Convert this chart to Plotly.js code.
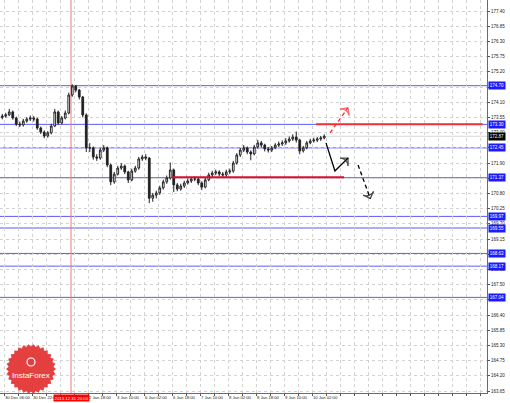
<!DOCTYPE html>
<html>
<head>
<meta charset="utf-8">
<script src="https://cdn.plot.ly/plotly-3.0.1.min.js"></script>
<style>html,body{margin:0;padding:0;background:#fff;}#chart{width:510px;height:403px;}</style>
</head>
<body>
<div id="chart"></div>
<script>
// ---- Data (H2 candles) ----
const openP = [173.55,173.60,173.64,173.75,173.53,173.31,173.28,173.42,173.49,173.53,173.49,173.17,173.02,172.88,172.99,173.24,173.75,173.35,173.53,173.71,174.36,174.69,174.54,174.29,173.64,172.45,172.45,172.12,172.08,172.37,172.45,171.83,171.22,171.50,171.72,171.79,171.58,171.29,171.61,171.72,172.05,172.12,172.08,170.63,170.74,170.82,171.00,171.22,171.36,171.65,171.11,170.96,171.07,171.18,171.25,171.32,171.32,171.18,171.03,171.29,171.47,171.54,171.58,171.50,171.47,171.58,171.61,171.90,172.19,172.37,172.45,172.30,172.23,172.48,172.63,172.55,172.41,172.37,172.45,172.55,172.59,172.63,172.70,172.77,172.84,172.73,172.34,172.45,172.63,172.70,172.73,172.77,172.81];
const highP = [173.68,173.72,173.86,173.80,173.58,173.40,173.50,173.56,173.62,173.60,173.54,173.22,173.08,173.06,173.32,173.86,173.80,173.60,173.80,174.45,174.75,174.72,174.58,174.33,173.70,172.62,172.50,172.22,172.44,172.55,172.50,171.88,171.58,171.80,171.90,171.85,171.62,171.70,171.80,172.12,172.20,172.22,172.12,170.82,170.90,171.08,171.30,171.45,171.92,171.70,171.18,171.15,171.26,171.34,171.40,171.42,171.38,171.24,171.36,171.55,171.62,171.66,171.64,171.58,171.66,171.70,171.98,172.26,172.45,172.55,172.50,172.36,172.56,172.74,172.70,172.60,172.48,172.52,172.62,172.68,172.72,172.80,172.86,172.94,173.04,172.78,172.52,172.70,172.78,172.82,172.84,172.88,172.94];
const lowP  = [173.48,173.54,173.60,173.47,173.24,173.20,173.22,173.36,173.42,173.40,173.10,172.95,172.80,172.82,172.94,173.20,173.28,173.30,173.48,173.66,174.30,174.46,174.20,173.55,172.30,172.30,172.02,171.98,172.02,172.30,171.75,171.10,171.15,171.45,171.65,171.50,171.18,171.24,171.55,171.66,171.98,172.00,170.45,170.50,170.62,170.75,170.94,171.15,171.30,170.85,170.88,170.90,171.00,171.12,171.18,171.24,171.10,170.92,170.98,171.24,171.40,171.46,171.42,171.38,171.40,171.50,171.55,171.84,172.12,172.30,172.22,172.00,172.18,172.42,172.46,172.32,172.28,172.30,172.40,172.48,172.52,172.56,172.64,172.70,172.64,172.22,172.28,172.40,172.58,172.64,172.66,172.70,172.76];
const closeP = [173.60,173.64,173.75,173.53,173.31,173.28,173.42,173.49,173.53,173.49,173.17,173.02,172.88,172.99,173.24,173.75,173.35,173.53,173.71,174.36,174.69,174.54,174.29,173.64,172.45,172.45,172.12,172.08,172.37,172.45,171.83,171.22,171.50,171.72,171.79,171.58,171.29,171.61,171.72,172.05,172.12,172.08,170.63,170.74,170.82,171.00,171.22,171.36,171.65,171.11,170.96,171.07,171.18,171.25,171.32,171.32,171.18,171.03,171.29,171.47,171.54,171.58,171.50,171.47,171.58,171.61,171.90,172.19,172.37,172.45,172.30,172.23,172.48,172.63,172.55,172.41,172.37,172.45,172.55,172.59,172.63,172.70,172.77,172.84,172.73,172.34,172.45,172.63,172.70,172.73,172.77,172.81,172.87];

// x-axis: hourly bar index, grid every 8 bars, labels every 16 bars
const xTickBars   = [0,8,16,24,32,40,48,56,64,72,80,88,96,104,112,120,128,136,144,152,160,168,176,184,192,200,208,216,224,232,240,248,256,264,272];
const xTickLabels = ["30 Dec 06:00","","30 Dec 22:00","","","","2 Jan 18:00","","3 Jan 10:00","","6 Jan 02:00","","6 Jan 18:00","","7 Jan 10:00","","8 Jan 02:00","","8 Jan 18:00","","9 Jan 10:00","","10 Jan 02:00","","","","","","","","","","","",""];

// y-axis price ticks
const yTicks = [177.40,176.85,176.30,175.75,175.20,174.65,174.10,173.55,173.00,172.45,171.90,171.35,170.80,170.25,169.70,169.15,168.60,168.05,167.50,166.95,166.40,165.85,165.30,164.75,164.20,163.65];

// horizontal levels
const blueLevels = [174.70,173.30,172.45,171.37,169.97,169.55,168.63,168.17,167.04];
const blueLabels = ["174.70","173.30","172.45","171.37","169.97","169.55","168.63","168.17","167.04"];
const currentPrice = 172.87;
const currentLabel = "172.87";
const resistance = {price: 173.30, fromBar: 178.3};
const support = {price: 171.39, fromBar: 96, toBar: 194.3};
const markerBar = 38.3;
const markerLabel = "2013.12.31 20:00";

// forecast arrows (bar index, price)
const upArrowBars = [186.3, 196.5];
const upArrowPrices = [172.99, 173.90];
const mainArrowBars = [184.0, 189.1, 196.6];
const mainArrowPrices = [172.63, 171.61, 172.08];
const downArrowBars = [202.3, 209.3];
const downArrowPrices = [171.83, 170.62];

// ---- Build ----
const candleX = openP.map((_, k) => 2 * k - 1);
const FONT = 'Liberation Sans, Arial, sans-serif';

const traces = [
  {
    type: 'candlestick', x: candleX, open: openP, high: highP, low: lowP, close: closeP,
    increasing: {line: {color: '#222222', width: 1}, fillcolor: '#ffffff'},
    decreasing: {line: {color: '#222222', width: 1}, fillcolor: '#222222'},
    whiskerwidth: 0, hoverinfo: 'skip'
  },
  {
    type: 'scatter', mode: 'lines+markers', x: upArrowBars, y: upArrowPrices,
    line: {color: '#ff2a2a', width: 1.3, dash: '4px,3px'},
    marker: {symbol: ['circle', 'arrow-wide-open'], size: [0, 8], angleref: 'previous',
             color: '#ff2a2a', line: {color: '#ff2a2a', width: 1.3}},
    hoverinfo: 'skip'
  },
  {
    type: 'scatter', mode: 'lines+markers', x: mainArrowBars, y: mainArrowPrices,
    line: {color: '#000000', width: 1.3},
    marker: {symbol: ['circle', 'circle', 'arrow-wide-open'], size: [0, 0, 8], angleref: 'previous',
             color: '#000', line: {color: '#000', width: 1.3}},
    hoverinfo: 'skip'
  },
  {
    type: 'scatter', mode: 'lines+markers', x: downArrowBars, y: downArrowPrices,
    line: {color: '#000000', width: 1.3, dash: '4px,3px'},
    marker: {symbol: ['circle', 'arrow-wide-open'], size: [0, 8], angleref: 'previous',
             color: '#000', line: {color: '#000', width: 1.3}},
    hoverinfo: 'skip'
  }
];

const shapes = [];
shapes.push({type: 'line', xref: 'paper', x0: 0, x1: 1, yref: 'y', y0: currentPrice, y1: currentPrice,
  line: {color: '#d8d8d8', width: 1}, layer: 'below'});
blueLevels.forEach(v => shapes.push({type: 'line', xref: 'paper', x0: 0, x1: 1, yref: 'y', y0: v, y1: v,
  line: {color: '#5a5aff', width: 1}, layer: 'below'}));
shapes.push({type: 'line', xref: 'x', x0: markerBar, x1: markerBar, yref: 'paper', y0: 0, y1: 1,
  line: {color: '#f07878', width: 1}, layer: 'below'});
shapes.push({type: 'line', xref: 'x', x0: resistance.fromBar, x1: 273.5, yref: 'y', y0: resistance.price, y1: resistance.price,
  line: {color: '#f0303a', width: 2}});
shapes.push({type: 'line', xref: 'x', x0: support.fromBar, x1: support.toBar, yref: 'y', y0: support.price, y1: support.price,
  line: {color: '#d8102e', width: 2}});

// InstaForex logo (decoration, bottom-left)
const PW = 487, PH = 393;
const cx = 31, cy = 369, rOut = 25, rIn = 22.5, teeth = 30;
let path = '';
for (let i = 0; i < teeth * 2; i++) {
  const a = Math.PI * i / teeth;
  const r = (i % 2 === 0) ? rOut : rIn;
  const px = cx + r * Math.cos(a), py = cy + r * Math.sin(a);
  path += (i === 0 ? 'M' : 'L') + (px / PW).toFixed(5) + ',' + (1 - py / PH).toFixed(5);
}
path += 'Z';
shapes.push({type: 'path', xref: 'paper', yref: 'paper', path: path,
  fillcolor: 'rgba(226,48,48,0.92)', line: {width: 0}, layer: 'above'});
shapes.push({type: 'circle', xref: 'paper', yref: 'paper',
  x0: (cx - 4) / PW, x1: (cx + 4) / PW, y0: 1 - (cy - 3) / PH, y1: 1 - (cy - 11) / PH,
  line: {color: '#ffffff', width: 1.2}, layer: 'above'});

const annotations = [];
blueLabels.forEach((t, i) => annotations.push({
  xref: 'paper', x: 1, xanchor: 'left', xshift: 1, yref: 'y', y: blueLevels[i], yanchor: 'middle',
  text: t, showarrow: false, bgcolor: '#1a1aff', borderpad: 0.8,
  font: {family: FONT, size: 4.5, color: '#ffffff'}
}));
annotations.push({
  xref: 'paper', x: 1, xanchor: 'left', xshift: 1, yref: 'y', y: currentPrice, yanchor: 'middle',
  text: currentLabel, showarrow: false, bgcolor: '#000000', borderpad: 0.8,
  font: {family: FONT, size: 4.5, color: '#ffffff'}
});
annotations.push({
  xref: 'x', x: markerBar, xanchor: 'center', yref: 'paper', y: 0, yanchor: 'top', yshift: -1,
  text: markerLabel, showarrow: false, bgcolor: '#ff0000', borderpad: 0.6,
  font: {family: FONT, size: 4.3, color: '#ffffff'}
});
annotations.push({
  xref: 'paper', x: cx / PW, xanchor: 'center', yref: 'paper', y: 1 - (cy + 6) / PH, yanchor: 'middle',
  text: 'InstaForex', showarrow: false,
  font: {family: FONT, size: 8, color: '#ffffff'}
});

const layout = {
  width: 510, height: 403,
  margin: {l: 0, r: 23, t: 0, b: 10, pad: 0},
  paper_bgcolor: '#ffffff', plot_bgcolor: '#ffffff',
  showlegend: false,
  xaxis: {
    range: [-2.29, 276], tickmode: 'array', tickvals: xTickBars, ticktext: xTickLabels,
    tickangle: 0, automargin: false,
    showgrid: true, gridcolor: '#d2d2d2', griddash: 'dot', gridwidth: 1,
    ticks: 'outside', ticklen: 2, tickcolor: '#555',
    tickfont: {family: FONT, size: 4.2, color: '#222'},
    ticklabelposition: 'outside right',
    showline: true, linecolor: '#6a6a6a', linewidth: 1, zeroline: false,
    rangeslider: {visible: false}, fixedrange: true
  },
  yaxis: {
    side: 'right', range: [163.58, 177.80], tickmode: 'array', tickvals: yTicks,
    ticktext: yTicks.map(v => v.toFixed(2)), automargin: false,
    showgrid: true, gridcolor: '#d2d2d2', griddash: 'dot', gridwidth: 1,
    ticks: 'outside', ticklen: 2, tickcolor: '#555',
    tickfont: {family: FONT, size: 4.5, color: '#222'},
    showline: true, linecolor: '#6a6a6a', linewidth: 1, zeroline: false, fixedrange: true
  },
  shapes: shapes,
  annotations: annotations
};

Plotly.newPlot('chart', traces, layout, {staticPlot: true, displayModeBar: false});
</script>
</body>
</html>
